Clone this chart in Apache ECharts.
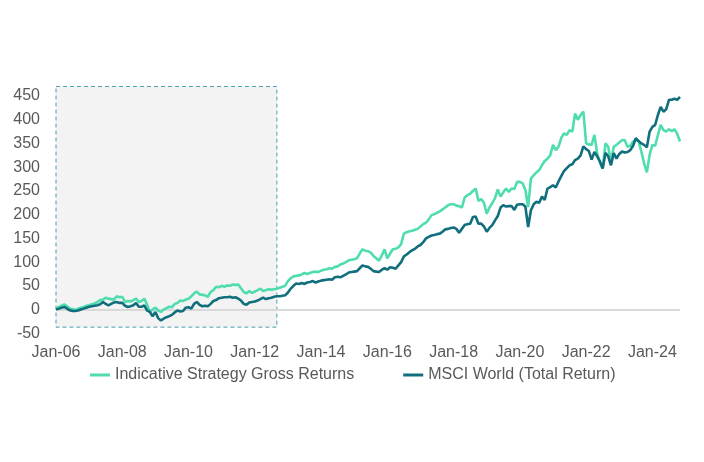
<!DOCTYPE html>
<html>
<head>
<meta charset="utf-8">
<script src="https://cdn.jsdelivr.net/npm/echarts@6/dist/echarts.min.js"></script>
<style>
html,body{margin:0;padding:0;background:#fff;}
#chart{width:704px;height:462px;}
</style>
</head>
<body>
<div id="chart"></div>
<script>
// Monthly series, Jan-06 .. Nov-24
const strategyReturns = [
  2,5,8,11,7,2,1,-1,2,4,5.5,8,
  9,11,13,16,20,21,25,23,22,21,28,26,
  27,16,18,17,20,23,16,18,23,10,-5,0,
  4,-2,-5,0,3,6,5,12,14,19,18,21,
  23,28,34,38,32,31,30,27,37,41,48,47,
  50,48,51,50,53,52,53,45,37,34,39,35,
  38,41,44,39,41,43,42,43,44,46,48,50,
  60,66,70,71,72,74,77,75,77,79,80,79,
  82,84,85,87,86,90,91,95,97,100,104,105,
  106,108,118,127,124,123,120,113,108,103,114,127,
  108,118,127,128,131,138,160,163,165,166,168,170,
  175,180,183,190,199,201,204,207,211,215,220,222,
  222,219,218,215,236,241,244,250,255,229,233,225,
  202,215,224,235,253,238,247,255,248,255,254,269,
  269,266,252,216,276,283,289,294,304,313,318,325,
  347,336,343,362,371,368,378,375,413,400,410,417,
  350,348,347,368,329,310,297,350,343,311,343,347,
  352,357,357,343,345,354,357,355,333,308,289,326,
  347,345,368,389,378,375,380,376,380,370,354
];
const msciReturns = [
  0,2,4,5.5,2,-1.5,-3,-3,-2,0,2,4,
  6,7,8,9,11,16,12,9,12,15,16,14,
  14,8,5.5,7,9,14,6,6,9,-2,-5,-14,
  -5,-18,-23,-19,-16,-14,-11,-6,-2,-4,-3,4,
  5,2,12,16,10,7,8,7,12,18,20,24,
  25,26,26,27,25,26,23,19,12,10,15,16,
  17,19,22,25,22,24,25,27,28,28,29,30,
  36,44,50,55,54,56,54,57,58,60,57,59,
  61,62,63,64,63,68,69,68,71,74,78,79,
  80,81,87,93,91,90,86,81,80,79,84,87,
  84,89,88,86,93,100,112,116,121,125,128,133,
  136,142,150,153,156,157,159,160,164,169,170,172,
  173,170,162,170,178,180,181,195,196,181,181,175,
  164,172,178,188,197,215,220,217,218,218,210,221,
  222,222,217,174,209,222,227,225,238,231,255,258,
  262,257,270,281,292,298,304,306,315,318,325,344,
  338,334,316,332,323,312,297,330,323,304,330,318,
  328,333,331,332,336,345,361,355,350,347,342,375,
  385,389,410,427,417,422,442,442,444,442,448
];
const seriesNames = ['Indicative Strategy Gross Returns', 'MSCI World (Total Return)'];
const monthNames = ['Jan','Feb','Mar','Apr','May','Jun','Jul','Aug','Sep','Oct','Nov','Dec'];
const startYear = 2006;
const categories = strategyReturns.map((_, i) =>
  monthNames[i % 12] + '-' + String((startYear + Math.floor(i / 12)) % 100).padStart(2, '0'));
// Highlighted period (category index range, value range)
const highlightStart = 0, highlightEnd = 79.5, highlightTop = 470, highlightBottom = -37;

const font = 'Liberation Sans, Arial, sans-serif';
const chart = echarts.init(document.getElementById('chart'), null, {renderer: 'canvas'});
chart.setOption({
  animation: false,
  backgroundColor: '#ffffff',
  grid: {left: 56, right: 24, top: 86.5, bottom: 128.7},
  legend: {
    data: seriesNames,
    left: 85, top: 362,
    icon: 'rect', itemWidth: 20, itemHeight: 3, itemGap: 49,
    textStyle: {fontFamily: font, fontSize: 16, color: '#595959'}
  },
  xAxis: {
    type: 'category', data: categories, boundaryGap: false,
    axisLine: {show: false}, axisTick: {show: false},
    axisLabel: {
      interval: (idx) => idx % 24 === 0, margin: 11,
      fontFamily: font, fontSize: 16, color: '#595959'
    },
    splitLine: {show: false}
  },
  yAxis: {
    type: 'value', min: -50, max: 470, interval: 50,
    axisLine: {show: false}, axisTick: {show: false}, splitLine: {show: false},
    axisLabel: {
      margin: 16, fontFamily: font, fontSize: 16, color: '#595959',
      formatter: (v) => (v > 450 ? '' : String(v))
    }
  },
  series: [
    {
      name: seriesNames[0], type: 'line', data: strategyReturns,
      symbol: 'none', color: '#4FDDB0',
      lineStyle: {width: 2.6, color: '#4FDDB0'},
      markArea: {
        silent: true, z: 1,
        itemStyle: {color: '#f3f3f3', borderColor: '#4a9fb0', borderWidth: 1, borderType: [4, 3]},
        data: [[{coord: [highlightStart, highlightTop]}, {coord: [highlightEnd, highlightBottom]}]]
      },
      markLine: {
        silent: true, z: 1.5, symbol: 'none', label: {show: false},
        lineStyle: {color: '#d9d9d9', width: 1.8, type: 'solid'},
        data: [{yAxis: 0}]
      }
    },
    {
      name: seriesNames[1], type: 'line', data: msciReturns,
      symbol: 'none', color: '#116E7D',
      lineStyle: {width: 2.6, color: '#116E7D'}
    }
  ]
});
</script>
</body>
</html>
